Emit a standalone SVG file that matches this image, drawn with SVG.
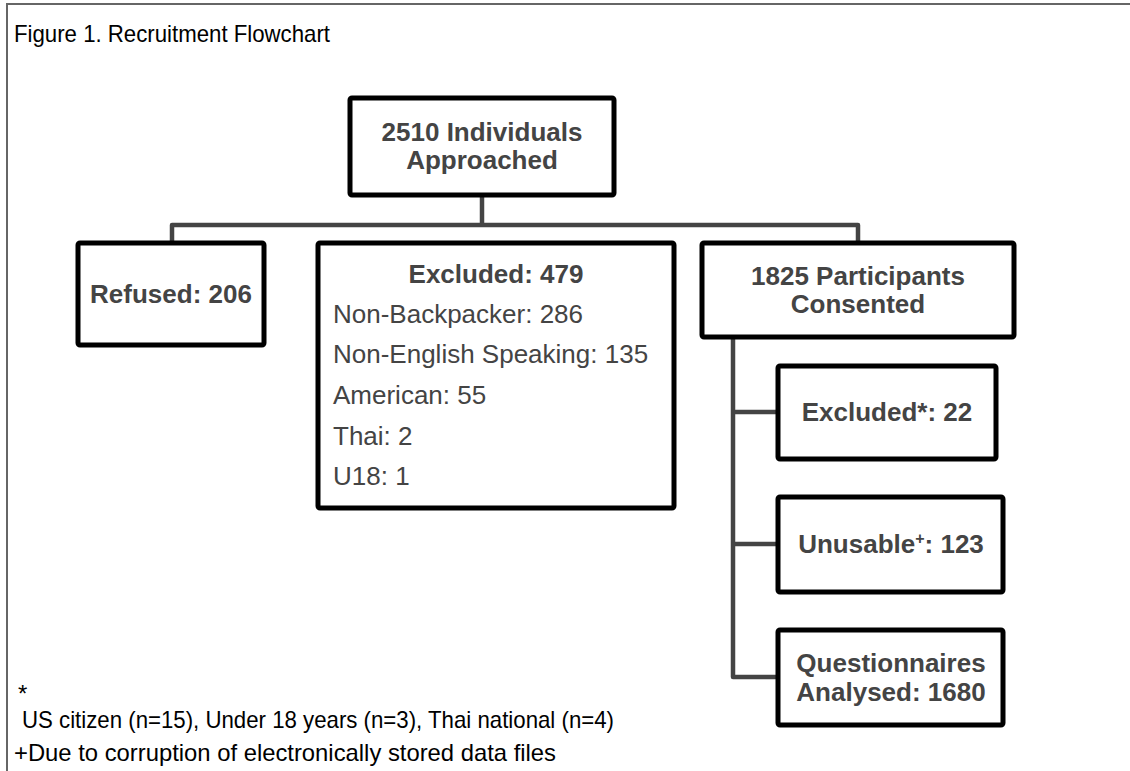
<svg xmlns="http://www.w3.org/2000/svg" width="1130" height="771" viewBox="0 0 1130 771">
<style>
.box{fill:#fff;stroke:#000;stroke-width:5}
.conn{fill:none;stroke:#444;stroke-width:4.5;stroke-linejoin:round}
.b{font-family:"Liberation Sans",Arial,sans-serif;font-weight:bold;font-size:26px;fill:#444;text-anchor:middle}
.r{font-family:"Liberation Sans",Arial,sans-serif;font-size:26px;fill:#444}
.cap{font-family:"Liberation Sans",Arial,sans-serif;font-size:24px;fill:#000}
</style>
<rect width="1130" height="771" fill="#fff"/>
<path d="M7 771 V4 H1130" fill="none" stroke="#666" stroke-width="2"/>
<text class="cap" x="14" y="42" font-size="25" textLength="316" lengthAdjust="spacingAndGlyphs">Figure 1. Recruitment Flowchart</text>
<g id="connectors">
<path class="conn" d="M482 195 V225"/>
<path class="conn" d="M172 243 V225 H858 V243"/>
<path class="conn" d="M733 337 V677 H778"/>
<path class="conn" d="M733 412 H778"/>
<path class="conn" d="M733 544 H778"/>
</g>
<g id="approached">
<rect class="box" x="350" y="98" width="264" height="97" rx="2"/>
<text class="b" x="482" y="141">2510 Individuals</text>
<text class="b" x="482" y="169">Approached</text>
</g>
<g id="refused">
<rect class="box" x="78" y="243" width="186" height="102" rx="2"/>
<text class="b" x="171" y="303">Refused: 206</text>
</g>
<g id="excluded">
<rect class="box" x="318" y="243" width="356" height="265" rx="2"/>
<text class="b" x="496" y="283">Excluded: 479</text>
<text class="r" x="333" y="323">Non-Backpacker: 286</text>
<text class="r" x="333" y="363">Non-English Speaking: 135</text>
<text class="r" x="333" y="404">American: 55</text>
<text class="r" x="333" y="445">Thai: 2</text>
<text class="r" x="333" y="485">U18: 1</text>
</g>
<g id="consented">
<rect class="box" x="702" y="243" width="312" height="94" rx="2"/>
<text class="b" x="858" y="285">1825 Participants</text>
<text class="b" x="858" y="313">Consented</text>
</g>
<g id="excluded2">
<rect class="box" x="778" y="366" width="218" height="93" rx="2"/>
<text class="b" x="887" y="421">Excluded*: 22</text>
</g>
<g id="unusable">
<rect class="box" x="778" y="497" width="225" height="95" rx="2"/>
<text class="b" x="891" y="553">Unusable<tspan font-size="16" dy="-9">+</tspan><tspan dy="9">: 123</tspan></text>
</g>
<g id="analysed">
<rect class="box" x="778" y="630" width="225" height="95" rx="2"/>
<text class="b" x="891" y="672">Questionnaires</text>
<text class="b" x="891" y="701">Analysed: 1680</text>
</g>
<g id="footnotes">
<text class="cap" x="18" y="702" font-size="13">*</text>
<text class="cap" x="22" y="728" textLength="592" lengthAdjust="spacingAndGlyphs">US citizen (n=15), Under 18 years (n=3), Thai national (n=4)</text>
<text class="cap" x="14" y="761" textLength="542" lengthAdjust="spacingAndGlyphs">+Due to corruption of electronically stored data files</text>
</g>
</svg>
